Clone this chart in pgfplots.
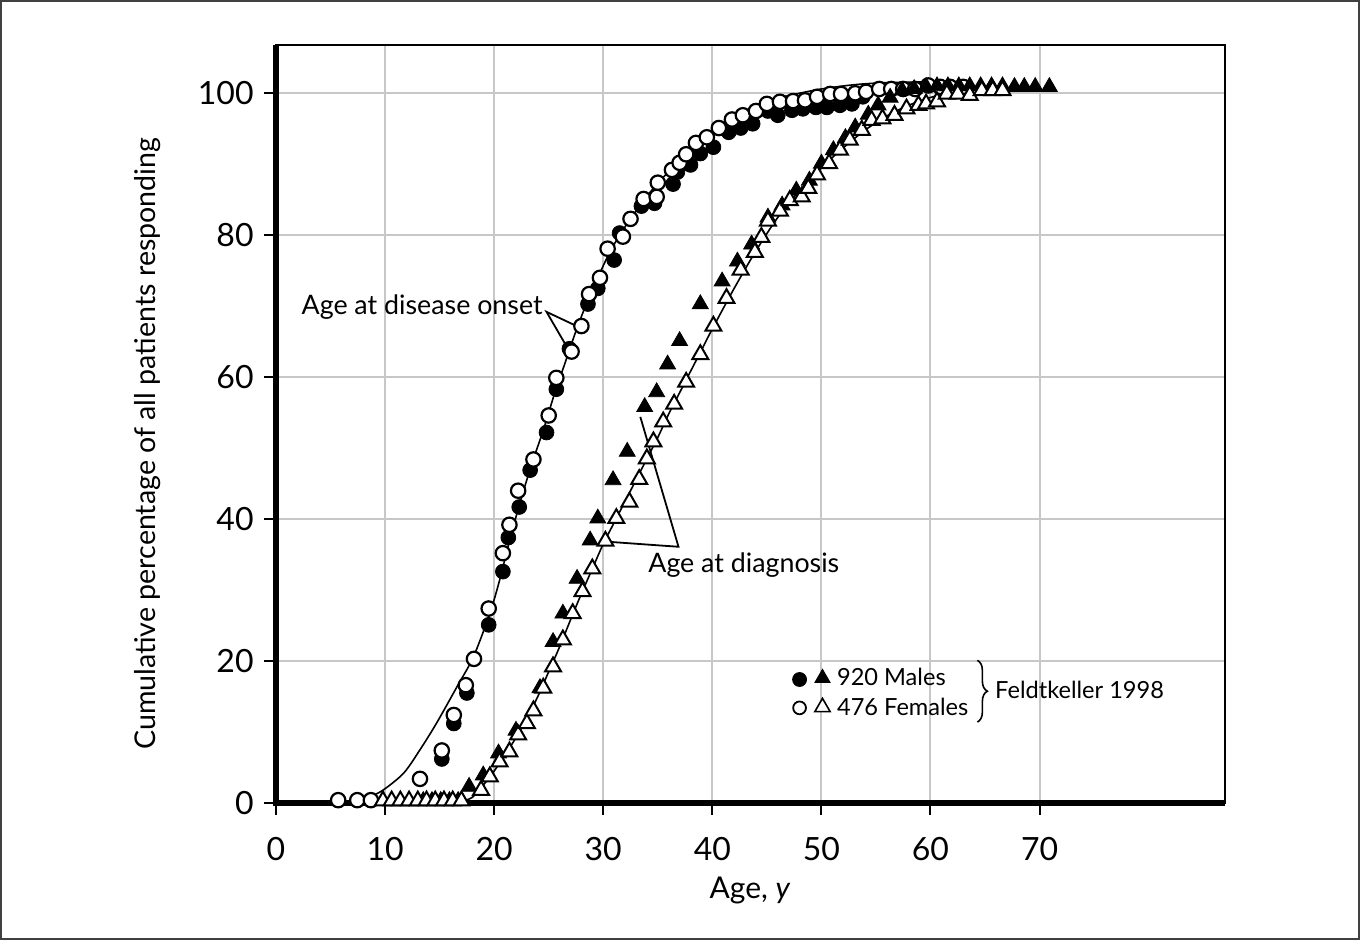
\documentclass[border=0pt]{standalone}
\usepackage{pgfplots}
\pgfplotsset{compat=1.18}
\usepackage{fontspec}
\setmainfont{Lato}
\usetikzlibrary{decorations.pathreplacing}
\begin{document}
\fontsize{15}{18}\selectfont
\begin{tikzpicture}[font=\fontsize{15}{18}\selectfont]
\draw[line width=1pt, black!75] (-137.5pt,-68pt) rectangle (541.5pt,401pt);
\begin{axis}[
  at={(0,0)}, anchor=south west,
  scale only axis, width=474.5pt, height=379pt,
  xmin=0, xmax=87, ymin=0, ymax=106.8,
  xtick={0,10,...,70}, ytick={0,20,...,100},
  grid=major, major grid style={line width=1pt, black!22},
  tick pos=left, tick align=outside, major tick length=6pt,
  tick style={line width=1pt, black},
  axis line style={line width=1pt},
  tick label style={font=\fontsize{16}{19}\selectfont},
  xticklabel style={yshift=-6pt},
  /pgf/number format/assume math mode=true,
  clip=false,
  xlabel={Age, \textit{y}},
  ylabel={Cumulative percentage of all patients responding},
  every axis x label/.style={at={(axis description cs:0.4995,-0.115)}, anchor=center},
  every axis y label/.style={at={(axis description cs:-0.1349,0.474)}, anchor=center, rotate=90, font=\fontsize{14.3}{17}\selectfont},
]
\draw[line width=2.6pt] (rel axis cs:0,1) -- (rel axis cs:0,0) -- (rel axis cs:1,0);

% onset curve
\addplot[black, line width=0.8pt, smooth, mark=none] coordinates {
(8.5,0.8) (9.8,1.8) (11.7,4.2) (13.2,7.5) (14.7,11.2) (16.6,16.4) (18.1,20.6) (19.6,26.7) (20.5,31.4) (21.5,37.5) (22.5,43) (23.5,48) (24.5,52.5) (25.5,57.5) (26.5,62) (27.5,66.5) (28.5,70.5) (29.5,74) (30.5,77.3) (31.5,80) (32.5,82.3) (34,85.5) (36,89) (38,92.3) (40,94.8) (42,96.8) (44,98.2) (46,99.3) (48,100) (50,100.6) (53,101.2) (56,101.5) (60,101.6)};
% diagnosis curve
\addplot[black, line width=0.8pt, smooth, mark=none] coordinates {
(17,0.2) (18,0.8) (19,2.5) (20,4.5) (21,6.8) (22,9.2) (23,12) (24,15) (25,18.5) (26,22) (27,25.8) (28,29.5) (29,33) (30,36.5) (31,39.5) (32,42.5) (33,45.5) (34,48.5) (35,51.5) (36,54.8) (37,57.8) (38,60.8) (39,63.8) (40,66.8) (42,72.5) (44,77.8) (46,82.5) (48,86.3) (50,89.5) (52,92.3) (54,94.8) (56,96.8) (58,98.3) (60,99.4) (62,100.2) (64,100.6)};

% males onset (filled circles)
\addplot[only marks, mark=*, mark size=3.7pt, mark options={fill=black, draw=black}] coordinates {
(15.2,6.2) (16.3,11.2) (17.5,15.5) (19.5,25.1) (20.8,32.6) (21.3,37.4) (22.3,41.7) (23.3,46.9) (24.8,52.2) (25.7,58.3) (26.9,64.0) (28.6,70.3) (29.5,72.5) (31.0,76.5) (31.5,80.3) (33.5,84.1) (34.7,84.5) (36.4,87.2) (36.8,88.9) (38.0,89.9) (38.9,91.5) (40.1,92.4) (41.5,94.5) (42.6,95.1) (43.7,95.7) (45.1,97.5) (46.0,96.9) (47.3,97.6) (48.3,97.8) (49.5,98.0) (50.5,98.0) (51.7,98.3) (52.8,98.5) (53.8,99.5)};
% females onset (open circles)
\addplot[only marks, mark=*, mark size=3.6pt, mark options={fill=white, draw=black, line width=1.1pt}] coordinates {
(5.7,0.4) (7.45,0.4) (8.7,0.4) (13.2,3.4) (15.2,7.4) (16.3,12.4) (17.4,16.6) (18.15,20.3) (19.5,27.4) (20.8,35.2) (21.4,39.2) (22.2,44.0) (23.6,48.4) (25.0,54.6) (25.7,59.9) (27.1,63.6) (28.0,67.2) (28.7,71.7) (29.7,74.0) (30.4,78.1) (31.8,79.8) (32.5,82.3) (33.7,85.1) (34.9,85.4) (35.0,87.4) (36.3,89.2) (37.0,90.2) (37.6,91.4) (38.5,93.0) (39.5,93.8) (40.6,95.1) (41.8,96.3) (42.8,96.9) (44.0,97.5) (45.0,98.5) (46.2,98.8) (47.4,98.9) (48.5,99.0) (49.6,99.5) (50.8,99.9) (51.8,99.9) (53.1,100.0) (54.1,100.2) (55.3,100.6) (56.4,100.6) (57.5,100.6) (58.6,100.6) (59.8,101.1) (60.9,100.9) (61.8,100.9) (63.0,100.9)};
% males diagnosis (filled triangles)
\addplot[only marks, mark=triangle*, mark size=4.6pt, mark options={fill=black, draw=black}] coordinates {
(13.5,0.3) (14.3,0.3) (15.1,0.3) (15.9,0.3) (16.7,0.3) (17.7,2.3) (19.0,3.9) (20.4,7.0) (22.0,10.2) (24.2,16.2) (25.4,22.7) (26.3,26.7) (27.6,31.6) (28.8,37.0) (29.5,40.1) (30.9,45.5) (32.2,49.5) (33.8,55.8) (34.9,57.9) (35.9,61.8) (37.0,65.1) (38.9,70.3) (40.9,73.5) (42.3,76.3) (43.6,78.7) (45.1,82.5) (46.4,84.2) (47.7,86.3) (48.9,87.7) (50.0,90.1) (51.1,92.0) (52.2,93.7) (53.1,95.2) (54.3,97.0) (55.2,98.3) (56.3,99.4) (57.4,100.4) (58.5,100.6) (59.6,100.9) (60.6,101) (61.6,101) (62.6,101) (63.6,101) (64.6,101) (65.6,101) (66.6,101) (67.7,100.9) (68.6,100.9) (69.6,100.9) (70.9,100.9)};
% females diagnosis (open triangles)
\addplot[only marks, mark=triangle*, mark size=4.6pt, mark options={fill=white, draw=black, line width=1pt}] coordinates {
(9.8,0.3) (10.6,0.3) (11.4,0.3) (12.2,0.3) (13.0,0.3) (13.8,0.3) (14.6,0.3) (15.4,0.3) (16.2,0.3) (17.0,0.3) (18.8,1.8) (19.6,3.7) (20.5,5.8) (21.4,7.2) (22.2,9.6) (23.0,11.2) (23.6,13.0) (24.5,16.2) (25.4,19.2) (26.3,23.0) (27.2,26.7) (28.1,29.8) (29.0,33.0) (30.2,36.9) (31.2,40.1) (32.4,42.4) (33.3,45.6) (34.0,48.5) (34.6,50.9) (35.5,53.7) (36.5,56.2) (37.6,59.3) (38.9,63.2) (40.1,67.2) (41.3,71.1) (42.6,75.1) (43.9,77.6) (44.5,79.7) (45.1,82.0) (46.2,83.4) (47.1,84.9) (48.2,85.4) (48.8,86.6) (49.6,88.5) (50.7,90.1) (51.7,92.0) (52.6,93.4) (53.7,94.8) (54.6,96.2) (55.6,96.4) (56.7,96.9) (57.8,97.8) (58.9,98.3) (59.6,98.5) (60.6,98.8) (61.5,99.9) (62.5,99.9) (63.6,99.7) (64.7,100.4) (65.7,100.4) (66.6,100.4)};

% annotations
\node[anchor=center, font=\fontsize{13.4}{16}\selectfont] at (axis cs:13.4,69.9) {Age at disease onset};
\draw[line width=0.9pt] (axis cs:27.56,67.2) -- (axis cs:24.8,69.2) -- (axis cs:26.5,64.7);
\node[anchor=west, inner sep=0pt, font=\fontsize{13.4}{16}\selectfont] at (axis cs:34.1,33.5) {Age at diagnosis};
\draw[line width=0.9pt] (axis cs:30.5,36.8) -- (axis cs:36.9,36.1) -- (axis cs:33.4,54.4);

% legend
\addplot[only marks, mark=*, mark size=3.5pt, mark options={fill=black, draw=black}] coordinates {(48.0,17.4)};
\addplot[only marks, mark=triangle*, mark size=4.4pt, mark options={fill=black, draw=black}] coordinates {(50.1,17.6)};
\addplot[only marks, mark=*, mark size=3.2pt, mark options={fill=white, draw=black, line width=0.9pt}] coordinates {(48.0,13.4)};
\addplot[only marks, mark=triangle*, mark size=4.4pt, mark options={fill=white, draw=black, line width=0.8pt}] coordinates {(50.1,13.5)};
\node[anchor=west, inner sep=0pt, font=\fontsize{11.8}{14}\selectfont] at (axis cs:51.4,17.7) {920 Males};
\node[anchor=west, inner sep=0pt, font=\fontsize{11.8}{14}\selectfont] at (axis cs:51.4,13.5) {476 Females};
\draw[line width=0.8pt, decorate, decoration={brace, amplitude=5pt}] (axis cs:64.3,20.1) -- (axis cs:64.3,11.4);
\node[anchor=west, inner sep=0pt, font=\fontsize{11.8}{14}\selectfont] at (axis cs:65.9,15.9) {Feldtkeller 1998};
\end{axis}
\end{tikzpicture}
\end{document}
